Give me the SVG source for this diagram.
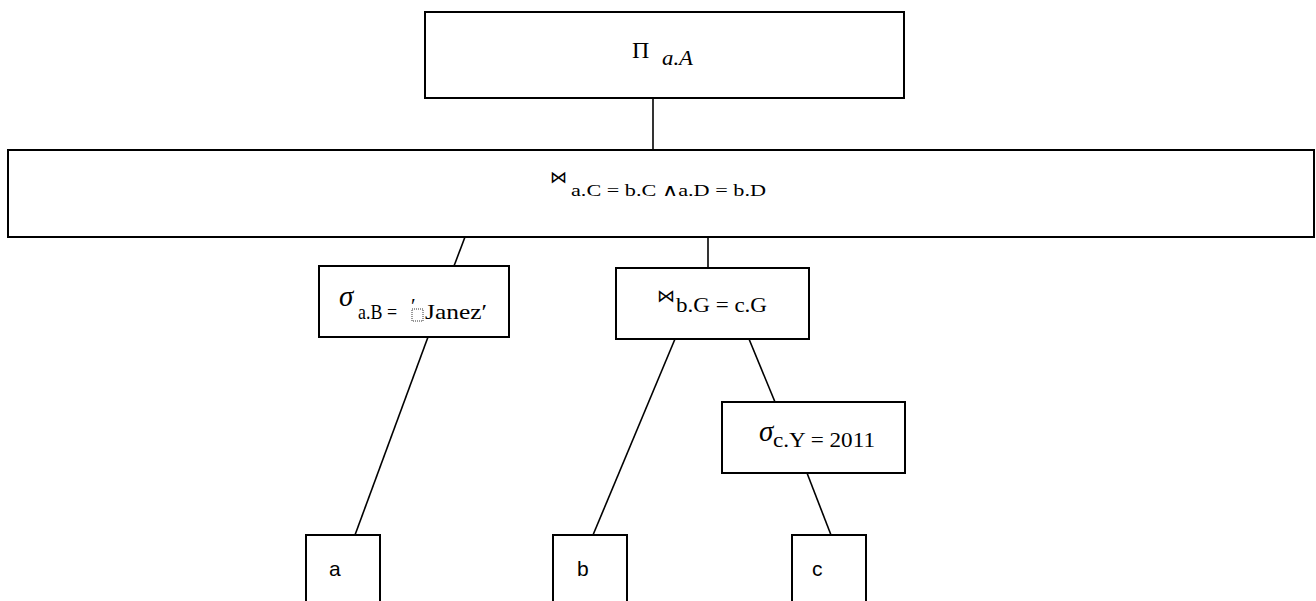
<svg xmlns="http://www.w3.org/2000/svg" width="1316" height="601" viewBox="0 0 1316 601">
<style>
.box{fill:#fff;stroke:#000;stroke-width:2}
.edge{stroke:#000;stroke-width:1.6;fill:none}
.m{font-family:"Liberation Serif","DejaVu Serif",serif;fill:#000}
.it{font-style:italic}
.lbl{font-family:"Liberation Sans","Open Sans",sans-serif;font-size:21px;fill:#000}
</style>
<rect width="1316" height="601" fill="#fff"/>
<g id="connectors">
<line class="edge" x1="653" y1="98" x2="653" y2="150"/>
<line class="edge" x1="465" y1="237" x2="454" y2="266"/>
<line class="edge" x1="708" y1="237" x2="708" y2="268"/>
<line class="edge" x1="428" y1="337" x2="355" y2="535"/>
<line class="edge" x1="675" y1="339" x2="593" y2="535"/>
<line class="edge" x1="749" y1="339" x2="775" y2="402"/>
<line class="edge" x1="807" y1="473" x2="831" y2="535"/>
</g>
<g id="proj">
<rect class="box" x="425" y="12" width="479" height="86"/>
<text class="m" x="632" y="58" font-size="24">Π</text>
<text class="m it" x="662" y="65" font-size="21" textLength="31" lengthAdjust="spacingAndGlyphs">a.A</text>
</g>
<g id="join1">
<rect class="box" x="8" y="150" width="1306" height="87"/>
<text class="m" x="550" y="183" font-size="17">⋈</text>
<text class="m" x="571" y="196" font-size="17" textLength="195" lengthAdjust="spacingAndGlyphs">a.C = b.C ∧a.D = b.D</text>
</g>
<g id="sel1">
<rect class="box" x="319" y="266" width="190" height="71"/>
<text class="m it" x="339" y="306" font-size="29">σ</text>
<text class="m" x="358" y="319" font-size="21" textLength="39" lengthAdjust="spacingAndGlyphs">a.B =</text>
<rect x="412" y="309" width="11" height="12" fill="none" stroke="#000" stroke-width="0.8" stroke-dasharray="1,1"/>
<text class="m" x="411" y="313" font-size="21">′</text>
<text class="m" x="425" y="319" font-size="21" textLength="62" lengthAdjust="spacingAndGlyphs">Janez′</text>
</g>
<g id="join2">
<rect class="box" x="616" y="268" width="193" height="71"/>
<text class="m" x="657" y="302" font-size="18">⋈</text>
<text class="m" x="676" y="312" font-size="21" textLength="91" lengthAdjust="spacingAndGlyphs">b.G = c.G</text>
</g>
<g id="sel2">
<rect class="box" x="722" y="402" width="183" height="71"/>
<text class="m it" x="759" y="441" font-size="29">σ</text>
<text class="m" x="773" y="447" font-size="21" textLength="102" lengthAdjust="spacingAndGlyphs">c.Y = 2011</text>
</g>
<g id="a">
<rect class="box" x="306" y="535" width="74" height="80"/>
<text class="lbl" x="329" y="576">a</text>
</g>
<g id="b">
<rect class="box" x="553" y="535" width="74" height="80"/>
<text class="lbl" x="577" y="576">b</text>
</g>
<g id="c">
<rect class="box" x="792" y="535" width="74" height="80"/>
<text class="lbl" x="812" y="576">c</text>
</g>
</svg>
